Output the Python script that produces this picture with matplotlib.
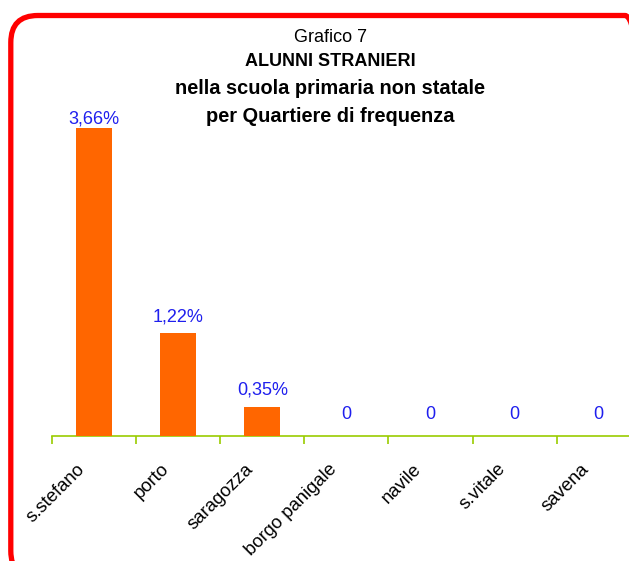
import matplotlib
matplotlib.use("Agg")
import matplotlib.pyplot as plt
from matplotlib.patches import FancyBboxPatch
from matplotlib.transforms import IdentityTransform, ScaledTranslation

plt.rcParams['font.family'] = ['Liberation Sans', 'DejaVu Sans']

quartieri = ['s.stefano', 'porto', 'saragozza', 'borgo panigale', 'navile', 's.vitale', 'savena']
percentuali = [3.66, 1.22, 0.35, 0, 0, 0, 0]
etichette = ['3,66%', '1,22%', '0,35%', '0', '0', '0', '0']

W, H = 629, 561
fig = plt.figure(figsize=(W / 100, H / 100), dpi=100)

# plot area in pixels: x axis at y=436, one category ~84 px wide
left, base, cat_w, px_per_unit = 52, 436, 84.1, 84.2
top = 111
ymax = (base - top) / px_per_unit
ax = fig.add_axes([left / W, (H - base) / H, 7 * cat_w / W, (base - top) / H])
ax.set_xlim(-0.5, 6.5)
ax.set_ylim(0, ymax)

x = range(len(quartieri))
ax.bar(x, percentuali, width=0.43, color='#FF6600', zorder=3)

green = '#99CC00'
for s in ['top', 'right', 'left']:
    ax.spines[s].set_visible(False)
ax.spines['bottom'].set_color(green)
ax.spines['bottom'].set_linewidth(1.2)
ax.set_yticks([])

# tick marks between categories, labels at category centres
ax.set_xticks([i - 0.5 for i in range(len(quartieri) + 1)])
ax.set_xticklabels([])
ax.tick_params(axis='x', which='major', direction='out', length=6, width=1.2, color=green)
ax.set_xticks(list(x), minor=True)
ax.set_xticklabels(quartieri, minor=True, rotation=45, ha='right', va='center',
                   rotation_mode='anchor', fontsize=13.3)
ax.tick_params(axis='x', which='minor', length=0, pad=22)
for lab in ax.get_xticklabels(minor=True):
    lab.set_transform(lab.get_transform() + ScaledTranslation(-12 / 100, 0, fig.dpi_scale_trans))

# value labels
for i, (v, t) in enumerate(zip(percentuali, etichette)):
    bar_top = base - v * px_per_unit
    if v == 0:
        ax.annotate(t, (i, v), xytext=(0, 13), textcoords='offset pixels',
                    ha='center', va='bottom', color='#1F1FEE', fontsize=13)
    elif bar_top - 8 - 17 < top:
        ax.annotate(t, (i, ymax), xytext=(0, 0), textcoords='offset pixels',
                    ha='center', va='top', color='#1F1FEE', fontsize=13)
    else:
        ax.annotate(t, (i, v), xytext=(0, 8), textcoords='offset pixels',
                    ha='center', va='bottom', color='#1F1FEE', fontsize=13)

# titles
cx = 330 / W
fig.text(cx, 1 - 37 / H, 'Grafico 7', ha='center', va='center', fontsize=13)
fig.text(cx, 1 - 62 / H, 'ALUNNI STRANIERI', ha='center', va='center', fontsize=13, fontweight='bold')
fig.text(cx, 1 - 89 / H, 'nella scuola primaria non statale', ha='center', va='center',
         fontsize=14.4, fontweight='bold')
fig.text(cx, 1 - 116 / H, 'per Quartiere di frequenza', ha='center', va='center',
         fontsize=14.4, fontweight='bold')

# red rounded frame, partly outside the picture
frame = FancyBboxPatch((10.8, H - 578), 652 - 10.8, 578 - 15.5,
                       boxstyle='round,pad=0,rounding_size=27',
                       transform=IdentityTransform(), fill=False, edgecolor='#FF0000',
                       linewidth=3.8, clip_on=False)
fig.add_artist(frame)

fig.savefig('out.png', dpi=100)
